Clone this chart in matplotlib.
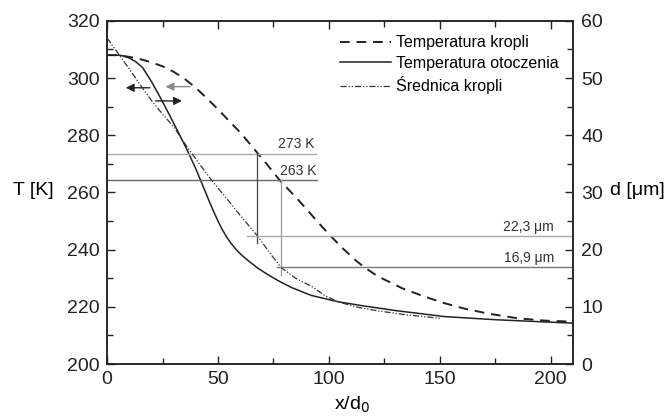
import numpy as np
import matplotlib.pyplot as plt
from matplotlib.ticker import MultipleLocator

plt.rcParams['font.family'] = ['Liberation Sans', 'DejaVu Sans']

# temperatura kropli (dashed), K
x_kropla = [0, 5, 10, 15, 20, 25, 30, 35, 40, 45, 50, 55, 60, 65, 68, 72, 78, 85, 90,
            95, 101, 106, 112, 116, 122, 133, 143, 152, 161, 172, 185, 197, 210]
T_kropla = [308, 308, 307.4, 306.6, 305.5, 304.1, 302.2, 299.7, 296.6, 292.9, 289.1,
            285, 281, 276.4, 273.6, 269.9, 264.1, 258.4, 254.1, 249.6, 244.6, 240.6,
            236.3, 233.8, 230.7, 226.5, 223.6, 221.3, 219.4, 217.6, 216, 215.2, 214.8]

# temperatura otoczenia (solid), K
x_otocz = [0, 5, 7, 10, 13, 16, 20, 24, 28, 32, 36, 40, 44, 46, 48, 50, 52, 54, 56, 58,
           60, 62, 64, 68, 72, 77, 83, 92, 104, 115, 130, 152, 175, 195, 210]
T_otocz = [308, 308, 307.8, 307, 305.7, 303.7, 298.8, 293.2, 287.3, 281.2, 275, 268.3,
           260.8, 257, 253.4, 250, 246.9, 244.3, 242.1, 240.2, 238.6, 237.2, 235.9,
           233.5, 231.5, 229.2, 226.8, 224, 221.8, 220.4, 218.7, 216.6, 215.5, 214.8,
           214.3]

# srednica kropli (dash-dot), um (prawa os)
x_sred = [0, 5, 10, 15, 20, 25, 30, 36, 42, 48, 54, 60, 68, 73, 78.4, 85, 92.5, 98,
          104, 112, 122, 135, 150]
d_sred = [57, 54.3, 51.6, 48.8, 46.1, 43.7, 41.5, 38, 34.8, 31.7, 28.9, 26, 22.3, 19.6,
          16.9, 15, 13.5, 12, 10.9, 10, 9.3, 8.6, 8]

fig, ax = plt.subplots(figsize=(6.69, 4.17), dpi=100)
fig.subplots_adjust(left=0.16, right=0.8565, bottom=0.127, top=0.95)
ax2 = ax.twinx()

l1, = ax.plot(x_kropla, T_kropla, color='#222222', lw=1.4, dashes=(5, 3.5))
l2, = ax.plot(x_otocz, T_otocz, color='#222222', lw=1.1)
l3, = ax2.plot(x_sred, d_sred, color='#333333', lw=0.9, dashes=(5, 1.5, 1, 1.5, 1, 1.5))

# linie pomocnicze
ax.plot([0, 94], [273.6, 273.6], color='#aaaaaa', lw=1)
ax.plot([0, 94.7], [264.2, 264.2], color='#666666', lw=1)
ax2.plot([63.3, 210], [22.3, 22.3], color='#aaaaaa', lw=1)
ax2.plot([76.8, 210], [16.9, 16.9], color='#777777', lw=1)
ax.plot([67.8, 67.8], [273.6, 242.2], color='#444444', lw=0.9)
ax.plot([78.4, 78.4], [264.2, 231], color='#999999', lw=0.9)

ax.text(93.4, 274.6, '273 K', ha='right', va='bottom', fontsize=10, color='#333333')
ax.text(94.2, 265.2, '263 K', ha='right', va='bottom', fontsize=10, color='#333333')
ax2.text(201.5, 22.8, '22,3 \u03bcm', ha='right', va='bottom', fontsize=10, color='#333333')
ax2.text(201.5, 17.4, '16,9 \u03bcm', ha='right', va='bottom', fontsize=10, color='#333333')

# strzalki
ax.annotate('', xy=(7.2, 296.6), xytext=(20.6, 296.6),
            arrowprops=dict(arrowstyle='-|>', color='#222222', lw=1, mutation_scale=12))
ax.annotate('', xy=(25.1, 297), xytext=(38.6, 297),
            arrowprops=dict(arrowstyle='-|>', color='#888888', lw=1, mutation_scale=12))
ax.annotate('', xy=(35, 292), xytext=(20.6, 292),
            arrowprops=dict(arrowstyle='-|>', color='#222222', lw=1, mutation_scale=12))

ax.set_xlim(0, 210)
ax.set_ylim(200, 320)
ax2.set_ylim(0, 60)
ax.xaxis.set_major_locator(MultipleLocator(50))
ax.xaxis.set_minor_locator(MultipleLocator(25))
ax.yaxis.set_major_locator(MultipleLocator(20))
ax.yaxis.set_minor_locator(MultipleLocator(10))
ax2.yaxis.set_major_locator(MultipleLocator(10))
ax2.yaxis.set_minor_locator(MultipleLocator(5))

ax.tick_params(which='both', direction='in', top=True, labelsize=14, colors='#222222')
ax.tick_params(which='major', length=6, width=1)
ax.tick_params(which='minor', length=4, width=1)
ax.tick_params(axis='y', pad=5.5)
ax.tick_params(axis='x', pad=5)
ax2.tick_params(which='both', direction='in', labelsize=14, colors='#222222', pad=6)
ax2.tick_params(which='major', length=6, width=1)
ax2.tick_params(which='minor', length=4, width=1)
for a in (ax, ax2):
    for s in a.spines.values():
        s.set_linewidth(1.1)
        s.set_color('#222222')

ax.set_xlabel('x/d$_0$', fontsize=14)
ax.xaxis.set_label_coords(0.526, -0.12)
ax.xaxis.label.set_va('center')
ax.set_ylabel('T [K]', fontsize=14, rotation=0, ha='center', va='center')
ax.yaxis.set_label_coords(-0.159, 0.507)
ax2.set_ylabel('d [\u03bcm]', fontsize=14, rotation=0, ha='center', va='center')
ax2.yaxis.set_label_coords(1.138, 0.507)

ax.legend([l1, l2, l3], ['Temperatura kropli', 'Temperatura otoczenia', '\u015arednica kropli'],
          loc='upper right', frameon=False, fontsize=11.5, handlelength=3.2,
          handletextpad=0.3, labelspacing=0.35, borderaxespad=0.5)

fig.savefig('out.png', dpi=100)
